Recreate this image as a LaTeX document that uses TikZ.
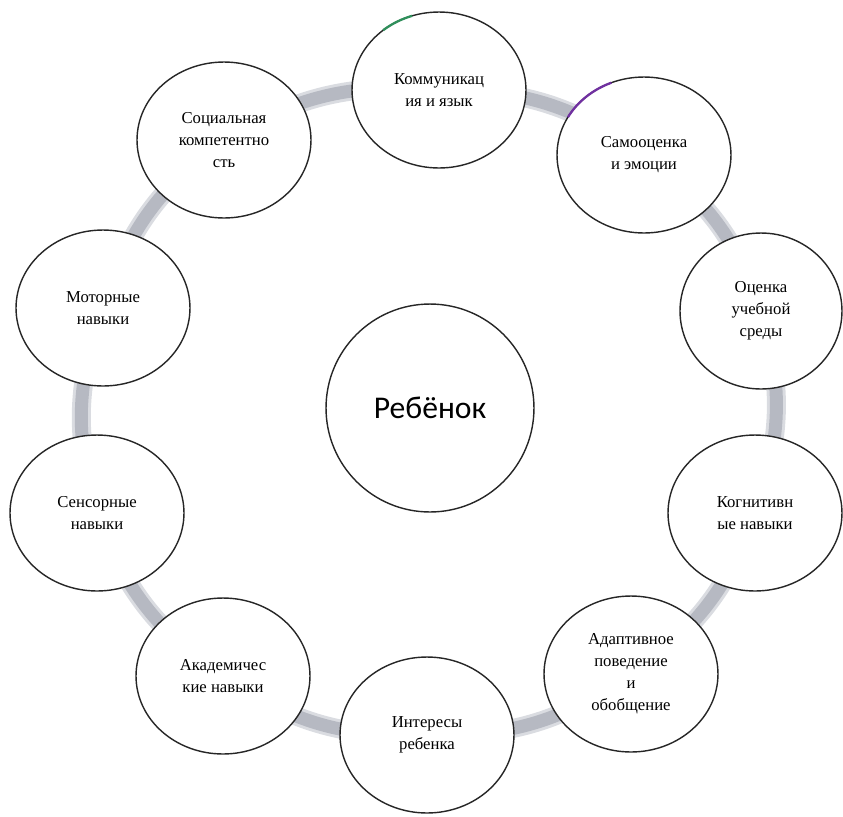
\documentclass[tikz,border=0pt]{standalone}
\usepackage{fontspec}
\setmainfont{Liberation Serif}
\newfontfamily\hubfont{Carlito}
\usetikzlibrary{shapes.geometric}
\pgfdeclarelayer{ringlayer}
\pgfsetlayers{ringlayer,main}
\definecolor{ringlight}{HTML}{DADCE1}
\definecolor{ringdark}{HTML}{B6B9C2}
\definecolor{leafgreen}{HTML}{2F8F5B}
\definecolor{accentviolet}{HTML}{7030A0}
\begin{document}
\begin{tikzpicture}[x=0.02cm,y=0.02cm,
  topic/.style={ellipse, draw=black!85, line width=0.8pt, fill=white,
    minimum width=3.48cm, minimum height=3.12cm, inner sep=0pt,
    align=center, font=\fontsize{9.5}{12.5}\selectfont},
  hub/.style={circle, draw=black!85, line width=0.8pt, fill=white,
    minimum size=4.16cm, inner sep=0pt, font=\hubfont\fontsize{18}{20}\selectfont},
  ringbase/.style={draw=ringlight, line width=0.38cm},
  ringcore/.style={draw=ringdark, line width=0.26cm},
  accent/.style={line width=1.3pt}]
\useasboundingbox (0,0) rectangle (843,-816);

% centre
\node[hub] (child) at (430,-408) {Ребёнок};

% outer topics, clockwise from the top
\node[topic] (komm)  at (439,-90)  {Коммуникац\\ия и язык};
\node[topic] (samo)  at (644,-155) {Самооценка\\и эмоции};
\node[topic, minimum width=3.24cm] (ocen) at (761,-311) {Оценка\\учебной\\среды};
\node[topic] (kogn)  at (755,-513) {Когнитивн\\ые навыки};
\node[topic] (adap)  at (631,-674) {Адаптивное\\поведение\\и\\обобщение};
\node[topic] (inter) at (427,-735) {Интересы\\ребенка};
\node[topic] (akad)  at (223,-676) {Академичес\\кие навыки};
\node[topic] (sens)  at (97,-513)  {Сенсорные\\навыки};
\node[topic] (motor) at (103,-308) {Моторные\\навыки};
\node[topic] (soc)   at (224,-140) {Социальная\\компетентно\\сть};

% grey ring joining the topics
\begin{pgfonlayer}{ringlayer}
\foreach \a/\b in {komm/samo, samo/ocen, ocen/kogn, kogn/adap, adap/inter,
                   inter/akad, akad/sens, sens/motor, motor/soc, soc/komm} {
  \draw[ringbase] (\a.center) to[bend left=18] (\b.center);
  \draw[ringcore] (\a.center) to[bend left=18] (\b.center);
}
\end{pgfonlayer}

% coloured touches on two outlines
\draw[accent, leafgreen] (komm.center) ++(108:1.74cm and 1.56cm)
  arc[start angle=108, end angle=130, x radius=1.74cm, y radius=1.56cm];
\draw[accent, accentviolet] (samo.center) ++(112:1.74cm and 1.56cm)
  arc[start angle=112, end angle=151, x radius=1.74cm, y radius=1.56cm];
\end{tikzpicture}
\end{document}
